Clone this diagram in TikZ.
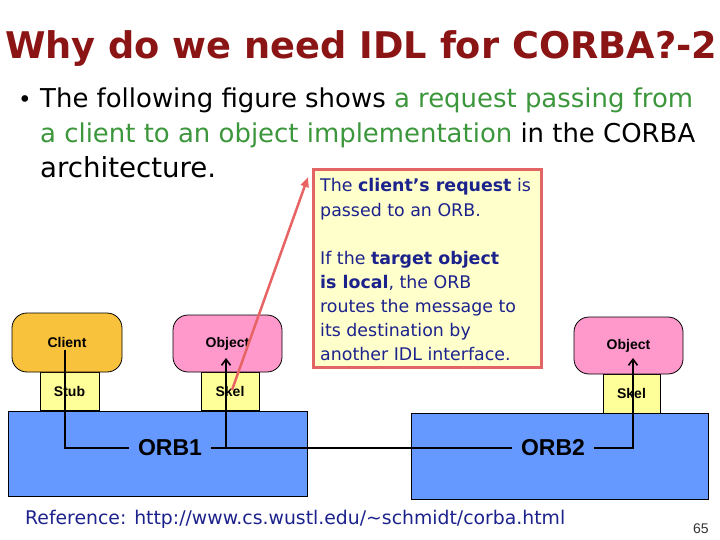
\documentclass[tikz,border=0pt]{standalone}
\usepackage{fontspec}
\setmainfont{DejaVu Sans}
\newfontfamily\labfont{Liberation Sans}
\usetikzlibrary{arrows.meta}
\definecolor{titlered}{RGB}{139,20,20}
\definecolor{greentxt}{RGB}{60,150,60}
\definecolor{navy}{RGB}{28,34,140}
\definecolor{calloutfill}{RGB}{255,255,204}
\definecolor{calloutline}{RGB}{226,100,100}
\definecolor{clientorange}{RGB}{249,194,60}
\definecolor{objpink}{RGB}{255,153,204}
\definecolor{stubyellow}{RGB}{255,255,153}
\definecolor{orbblue}{RGB}{102,153,255}
\definecolor{redarrow}{RGB}{232,100,100}
\tikzset{
  txt/.style={anchor=base west, inner sep=0pt},
  bodyline/.style={txt, font=\fontsize{23}{23}\selectfont},
  callline/.style={txt, text=navy, font=\fontsize{17.4}{17.4}\selectfont},
  roundbox/.style={draw=black, line width=0.8pt, rounded corners=15pt, font=\labfont\bfseries\fontsize{14}{14}\selectfont, inner sep=0pt},
  smallbox/.style={draw=black, line width=0.8pt, fill=stubyellow, font=\labfont\bfseries\fontsize{14}{14}\selectfont, inner sep=0pt},
  orbbox/.style={draw=black, line width=0.8pt, fill=orbblue},
  orblabel/.style={font=\labfont\bfseries\fontsize{23}{23}\selectfont, inner sep=9pt},
  conn/.style={line width=1.8pt, black},
  uparrow/.style={conn, -{Straight Barb[length=6pt,width=9pt,line width=1.6pt]}},
}
\begin{document}
\begin{tikzpicture}[x=1pt,y=-1pt]
\useasboundingbox (0,0) rectangle (720,540);
% title
\node[txt, text=titlered, font=\fontsize{40}{40}\selectfont\bfseries] (title) at (5,59)
  {\resizebox{712pt}{!}{Why do we need IDL for CORBA?-2}};
% bullet
\node[bodyline] (bullet) at (18,108) {•};
\node[bodyline] (l1) at (40,108) {\resizebox{653pt}{!}{The following figure shows \textcolor{greentxt}{a request passing from}}};
\node[bodyline] (l2) at (40,143) {\resizebox{655pt}{!}{\textcolor{greentxt}{a client to an object implementation} in the CORBA}};
\node[bodyline] (l3) at (40,178) {\resizebox{176pt}{!}{architecture.}};
% callout
\node[draw=calloutline, fill=calloutfill, line width=3pt, minimum width=228pt, minimum height=198pt, inner sep=0pt] (callout) at (427.5,268.5) {};
\node[callline] (c1) at (320,192) {The \textbf{client's request} is};
\node[callline] (c2) at (320,216) {passed to an ORB.};
\node[callline] (c3) at (320,264) {If the \textbf{target object}};
\node[callline] (c4) at (320,288) {\textbf{is local}, the ORB};
\node[callline] (c5) at (320,312) {routes the message to};
\node[callline] (c6) at (320,336) {its destination by};
\node[callline] (c7) at (320,360) {another IDL interface.};
% ORB boxes
\node[orbbox, minimum width=299pt, minimum height=85pt] (orb1) at (157.5,453.5) {};
\node[orbbox, minimum width=297pt, minimum height=86pt] (orb2) at (559.5,456) {};
% stubs / skels
\node[smallbox, minimum width=59pt, minimum height=38pt] (stub) at (69.5,391) {Stub};
\node[smallbox, minimum width=58pt, minimum height=38pt] (skel1) at (230,391) {Skel};
\node[smallbox, minimum width=57pt, minimum height=39pt] (skel2) at (631.5,393.5) {Skel};
% client / objects
\node[roundbox, fill=clientorange, minimum width=110pt, minimum height=59pt] (client) at (67,342.5) {Client};
\node[roundbox, fill=objpink, minimum width=109pt, minimum height=57pt] (obj1) at (227.5,343.5) {Object};
\node[roundbox, fill=objpink, minimum width=109pt, minimum height=57pt] (obj2) at (628.5,345.5) {Object};
% ORB labels
\node[orblabel] (orb1t) at (170,448) {ORB1};
\node[orblabel] (orb2t) at (553,448) {ORB2};
% connectors
\coordinate (cstart) at (65,350);
\coordinate (j1) at (226,448);
\coordinate (t1) at (226,358);
\coordinate (t2) at (633,358);
\draw[conn] (cstart) |- (orb1t.west);
\draw[conn] (orb1t.east) -- (orb2t.west);
\draw[uparrow] (j1) -- (t1);
\draw[uparrow] (orb2t.east) -| (t2);
% red arrow
\coordinate (r0) at (232,390);
\coordinate (r1) at (308,177);
\draw[redarrow, line width=2.5pt, -{Triangle[length=10pt,width=8pt]}] (r0) -- (r1);
% footer
\node[txt, text=navy, font=\fontsize{17.5}{17.5}\selectfont] (ref) at (25,524)
  {\resizebox{540pt}{!}{Reference: http://www.cs.wustl.edu/\textasciitilde schmidt/corba.html}};
\node[txt, text=black!80, font=\labfont\fontsize{14}{14}\selectfont] (pg) at (693,533) {65};
\end{tikzpicture}
\end{document}
